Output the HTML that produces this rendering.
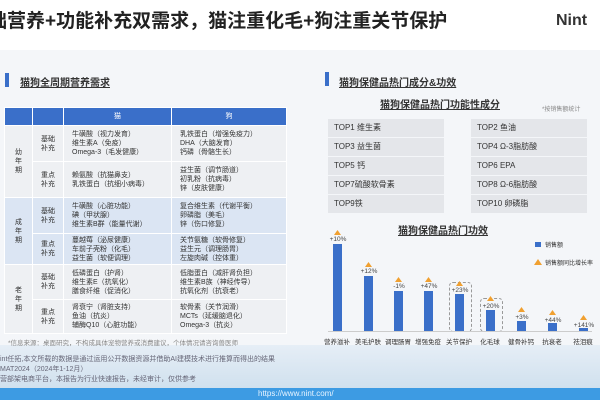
<!DOCTYPE html><html><head><meta charset="utf-8"><style>
*{margin:0;padding:0;box-sizing:border-box}
body{width:600px;height:400px;overflow:hidden;position:relative;background:#f4f6f9;font-family:"Liberation Sans","Noto Sans CJK SC",sans-serif;color:#333}
.abs{position:absolute}
.t{font-size:7px;line-height:9px;color:#333}
td{border:1px solid #fff;font-size:7px;line-height:9px;color:#333;vertical-align:middle}
.box{position:absolute;background:#e4e6ea;font-size:8px;line-height:18px;padding-left:6px;height:18px;width:116px}
.lab{position:absolute;font-size:6.5px;width:36px;text-align:center;top:336px;color:#333}
.pct{position:absolute;font-size:6.5px;width:36px;text-align:center;color:#444}
</style></head><body>
<div class="abs" style="left:0;top:0;width:600px;height:50px;background:#fff"></div>
<div class="abs" style="left:-12px;top:6px;font-size:19px;font-weight:bold;color:#222;white-space:nowrap">础营养+功能补充双需求，猫注重化毛+狗注重关节保护</div>
<div class="abs" style="left:556px;top:12px;font-size:16px;font-weight:bold;color:#333">Nint</div>
<div class="abs" style="left:0;top:345px;width:600px;height:45px;background:linear-gradient(#e6eef6,#cfe0ee)"></div>
<div class="abs" style="left:0;top:388px;width:600px;height:12px;background:#3d9be3"></div>
<div class="abs" style="left:258px;top:389px;font-size:8px;color:#e8f4ff">https://www.nint.com/</div>

<div class="abs" style="left:5px;top:73px;width:4px;height:14px;background:#3a6fc9"></div>
<div class="abs" style="left:20px;top:74px;font-size:10px;font-weight:bold;text-decoration:underline">猫狗全周期营养需求</div>
<table class="abs" style="left:4px;top:107px;width:283px;border-collapse:collapse">
<tr style="height:18px;background:#3a6fc9;color:#fff"><td style="width:28px"></td><td style="width:31px"></td><td style="width:108px;text-align:center;color:#fff">猫</td><td style="text-align:center;color:#fff">狗</td></tr>
<tr style="height:36px;background:#eef0f3"><td rowspan="2" style="text-align:center">幼<br>年<br>期</td><td style="text-align:center">基础<br>补充</td><td style="padding-left:8px">牛磺酸（视力发育）<br>维生素A（免疫）<br>Omega-3（毛发健康）</td><td style="padding-left:8px">乳铁蛋白（增强免疫力）<br>DHA（大脑发育）<br>钙磷（骨骼生长）</td></tr>
<tr style="height:36px;background:#eef0f3"><td style="text-align:center">重点<br>补充</td><td style="padding-left:8px">赖氨酸（抗猫鼻支）<br>乳铁蛋白（抗细小病毒）</td><td style="padding-left:8px">益生菌（调节肠道）<br>初乳粉（抗病毒）<br>锌（皮肤健康）</td></tr>
<tr style="height:36px;background:#dbe5f3"><td rowspan="2" style="text-align:center">成<br>年<br>期</td><td style="text-align:center">基础<br>补充</td><td style="padding-left:8px">牛磺酸（心脏功能）<br>碘（甲状腺）<br>维生素B群（能量代谢）</td><td style="padding-left:8px">复合维生素（代谢平衡）<br>卵磷脂（美毛）<br>锌（伤口修复）</td></tr>
<tr style="height:31px;background:#dbe5f3"><td style="text-align:center">重点<br>补充</td><td style="padding-left:8px">蔓越莓（泌尿健康）<br>车前子壳粉（化毛）<br>益生菌（软便调理）</td><td style="padding-left:8px">关节氨糖（软骨修复）<br>益生元（调理肠胃）<br>左旋肉碱（控体重）</td></tr>
<tr style="height:35px;background:#eef0f3"><td rowspan="2" style="text-align:center">老<br>年<br>期</td><td style="text-align:center">基础<br>补充</td><td style="padding-left:8px">低磷蛋白（护肾）<br>维生素E（抗氧化）<br>膳食纤维（促消化）</td><td style="padding-left:8px">低脂蛋白（减肝肾负担）<br>维生素B族（神经传导）<br>抗氧化剂（抗衰老）</td></tr>
<tr style="height:34px;background:#eef0f3"><td style="text-align:center">重点<br>补充</td><td style="padding-left:8px">肾衰宁（肾脏支持）<br>鱼油（抗炎）<br>辅酶Q10（心脏功能）</td><td style="padding-left:8px">软骨素（关节润滑）<br>MCTs（延缓脑退化）<br>Omega-3（抗炎）</td></tr>
</table>
<div class="abs" style="left:8px;top:337px;font-size:6.5px;color:#888">*信息来源：桌面研究，不构成具体宠物营养或消费建议，个体情况请咨询兽医师</div>
<div class="abs" style="left:0;top:355px;font-size:7px;line-height:10px;color:#667">int任拓,本文所载的数据是通过运用公开数据资源并借助AI建模技术进行推算而得出的结果<br>MAT2024（2024年1-12月）<br>营部架电商平台，本报告为行业快速报告，未经审计，仅供参考</div>

<div class="abs" style="left:325px;top:72px;width:4px;height:14px;background:#3a6fc9"></div>
<div class="abs" style="left:339px;top:74px;font-size:10px;font-weight:bold;text-decoration:underline">猫狗保健品热门成分&amp;功效</div>
<div class="abs" style="left:380px;top:96px;font-size:10px;font-weight:bold;text-decoration:underline">猫狗保健品热门功能性成分</div>
<div class="abs" style="left:542px;top:104px;font-size:6px;color:#888">*按销售额统计</div>
<div class="box" style="left:328px;top:119px">TOP1 维生素</div><div class="box" style="left:471px;top:119px">TOP2 鱼油</div>
<div class="box" style="left:328px;top:138px">TOP3 益生菌</div><div class="box" style="left:471px;top:138px">TOP4 Ω-3脂肪酸</div>
<div class="box" style="left:328px;top:157px">TOP5 钙</div><div class="box" style="left:471px;top:157px">TOP6 EPA</div>
<div class="box" style="left:328px;top:176px">TOP7硫酸软骨素</div><div class="box" style="left:471px;top:176px">TOP8 Ω-6脂肪酸</div>
<div class="box" style="left:328px;top:195px">TOP9铁</div><div class="box" style="left:471px;top:195px">TOP10 卵磷脂</div>
<div class="abs" style="left:398px;top:222px;font-size:10px;font-weight:bold;text-decoration:underline">猫狗保健品热门功效</div>
<div class="abs" style="left:535px;top:242px;width:6px;height:5px;background:#3a6fc9"></div><div class="abs" style="left:545px;top:240px;font-size:6px">销售额</div>
<div class="abs" style="left:534px;top:259px;width:0;height:0;border-left:4px solid transparent;border-right:4px solid transparent;border-bottom:6px solid #f0a030"></div><div class="abs" style="left:545px;top:258px;font-size:6px">销售额同比增长率</div>
<div class="abs" style="left:449px;top:282px;width:23px;height:50px;border:1px dashed #999;border-radius:4px"></div>
<div class="abs" style="left:480px;top:298px;width:23px;height:34px;border:1px dashed #999;border-radius:4px"></div>
<div class="abs" style="left:328px;top:331px;width:264px;height:1px;background:#ccc"></div>
<svg class="abs" style="left:0;top:0" width="600" height="400">
<g fill="#3a6fc9">
<rect x="333" y="244" width="9" height="87"/><rect x="364" y="276" width="9" height="55"/><rect x="394" y="291" width="9" height="40"/><rect x="424" y="291" width="9" height="40"/><rect x="455" y="294" width="9" height="37"/><rect x="486" y="310" width="9" height="21"/><rect x="517" y="321" width="9" height="10"/><rect x="548" y="323" width="9" height="8"/><rect x="579" y="328" width="9" height="3"/></g>
<g fill="#f0a030">
<path d="M334 235h7l-3.5-5z"/><path d="M365 267h7l-3.5-5z"/><path d="M395 282h7l-3.5-5z"/><path d="M425 282h7l-3.5-5z"/><path d="M456 286h7l-3.5-5z"/><path d="M487 301h7l-3.5-5z"/><path d="M518 312h7l-3.5-5z"/><path d="M549 315h7l-3.5-5z"/><path d="M580 320h7l-3.5-5z"/></g>
</svg>
<div class="pct" style="left:320px;top:236px">+10%</div><div class="pct" style="left:351px;top:268px">+12%</div><div class="pct" style="left:381px;top:283px">-1%</div><div class="pct" style="left:411px;top:283px">+47%</div><div class="pct" style="left:442px;top:287px">+23%</div><div class="pct" style="left:473px;top:303px">+20%</div><div class="pct" style="left:504px;top:314px">+3%</div><div class="pct" style="left:535px;top:317px">+44%</div><div class="pct" style="left:566px;top:322px">+141%</div>
<div class="lab" style="left:319px">营养滋补</div><div class="lab" style="left:350px">美毛护肤</div><div class="lab" style="left:380px">调理肠胃</div><div class="lab" style="left:410px">增强免疫</div><div class="lab" style="left:441px">关节保护</div><div class="lab" style="left:472px">化毛球</div><div class="lab" style="left:503px">健骨补钙</div><div class="lab" style="left:534px">抗衰老</div><div class="lab" style="left:565px">祛泪痕</div>
</body></html>
